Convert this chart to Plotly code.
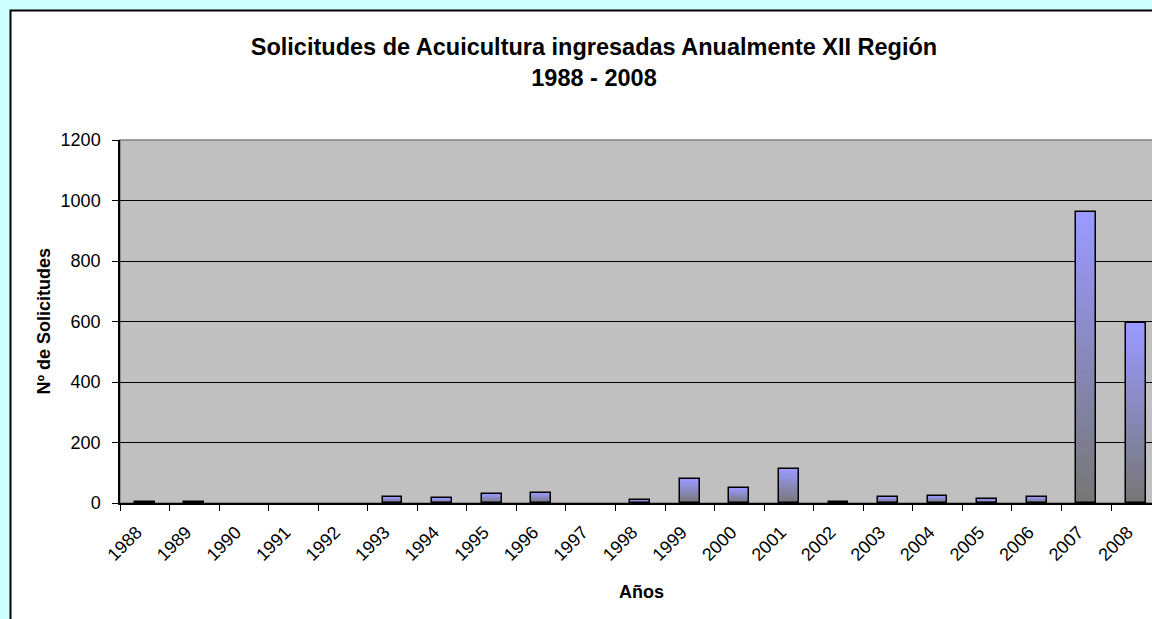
import plotly.graph_objects as go

# ---- data ----
years = ["1988", "1989", "1990", "1991", "1992", "1993", "1994", "1995", "1996", "1997",
         "1998", "1999", "2000", "2001", "2002", "2003", "2004", "2005", "2006", "2007", "2008"]
solicitudes = [4, 4, 0, 0, 0, 20, 15, 30, 34, 0,
               9, 79, 49, 112, 3, 20, 24, 14, 21, 962, 594]
y_ticks = [0, 200, 400, 600, 800, 1000, 1200]

title_text = "Solicitudes de Acuicultura ingresadas Anualmente XII Región"
subtitle_text = "1988 - 2008"
x_title = "Años"
y_title = "Nº de Solicitudes"

# ---- layout geometry (pixels) ----
W, H = 1152, 619
ML, MR, MT, MB = 120, 0, 140, 116
PW, PH = W - ML - MR, H - MT - MB
CAT_PX = 49.55  # pixel width of one category


def px_x(px):
    return (px - ML) / PW


def px_y(py):
    return (H - MB - py) / PH


FONT = "Arial, 'Liberation Sans', sans-serif"
TOP_RGB = (153, 153, 255)
BOT_RGB = (119, 119, 119)
N_SHADES = 24

# zero-valued years draw no bar at all
drawn = [v if v > 0 else None for v in solicitudes]

fig = go.Figure()

# vertical gradient fill of the bars (top light blue -> bottom grey), built as
# overlapping bars of the same values, each shade covering a lower share of the bar
for k in range(N_SHADES):
    t = k / (N_SHADES - 1)
    r = round(TOP_RGB[0] + (BOT_RGB[0] - TOP_RGB[0]) * t)
    g = round(TOP_RGB[1] + (BOT_RGB[1] - TOP_RGB[1]) * t)
    b = round(TOP_RGB[2] + (BOT_RGB[2] - TOP_RGB[2]) * t)
    share = 1 - k / N_SHADES
    fig.add_trace(go.Bar(
        x=years, y=[None if v is None else v * share for v in drawn], width=0.4,
        marker=dict(color=f"rgb({r},{g},{b})", line=dict(width=0)),
        hoverinfo="skip", showlegend=False,
    ))

# outline of the bars
fig.add_trace(go.Bar(
    x=years, y=drawn, width=0.4, name="Solicitudes",
    marker=dict(color="rgba(0,0,0,0)", line=dict(color="black", width=1.5)),
    showlegend=False,
))

shapes = [
    # white chart area with black frame (extends past the window on right/bottom)
    dict(type="rect", xref="paper", yref="paper", layer="below",
         x0=px_x(10.5), x1=px_x(1300), y0=px_y(10.5), y1=px_y(800),
         fillcolor="white", line=dict(color="black", width=2)),
    # grey plot area
    dict(type="rect", xref="paper", yref="paper", layer="below",
         x0=0, x1=1.2, y0=0, y1=1,
         fillcolor="#C0C0C0", line=dict(color="#808080", width=1.5)),
]

annotations = [
    dict(text=f"<b>{y_title}</b>", xref="paper", yref="paper",
         x=px_x(43), y=0.5, textangle=-90, showarrow=False,
         xanchor="center", yanchor="middle",
         font=dict(family=FONT, size=18, color="black")),
    dict(text=f"<b>{x_title}</b>", xref="paper", yref="paper",
         x=px_x(641), y=px_y(592), showarrow=False,
         xanchor="center", yanchor="middle",
         font=dict(family=FONT, size=18, color="black")),
]

fig.update_layout(
    width=W, height=H,
    margin=dict(l=ML, r=MR, t=MT, b=MB, autoexpand=False),
    paper_bgcolor="#CCFFFF",
    plot_bgcolor="rgba(0,0,0,0)",
    barmode="overlay",
    bargap=0,
    title=dict(
        text=f"<b>{title_text}</b><br><b>{subtitle_text}</b>",
        x=594 / W, xanchor="center", xref="container",
        y=1 - 55 / H, yanchor="top", yref="container",
        font=dict(family=FONT, size=23.5, color="black"),
    ),
    xaxis=dict(
        type="category", categoryorder="array", categoryarray=years,
        range=[-0.5, -0.5 + PW / CAT_PX],
        tickangle=-45, tickson="boundaries",
        ticks="outside", ticklen=6, tickcolor="black", tickwidth=1,
        showline=True, linecolor="black", linewidth=1.5,
        showgrid=False, zeroline=False,
        ticklabelstandoff=10, ticklabelshift=-8,
        tickfont=dict(family=FONT, size=18, color="black"),
        fixedrange=True,
    ),
    yaxis=dict(
        range=[0, 1200], tickvals=y_ticks,
        ticks="outside", ticklen=6, tickcolor="black", tickwidth=1,
        showline=True, linecolor="black", linewidth=1.5,
        showgrid=True, gridcolor="black", gridwidth=1.2,
        zeroline=False,
        ticklabelstandoff=8,
        tickfont=dict(family=FONT, size=18, color="black"),
        fixedrange=True,
    ),
    shapes=shapes,
    annotations=annotations,
)

fig.write_html(
    "out.html",
    config={"displayModeBar": False},
    post_script="document.body.style.margin='0';document.body.style.overflow='hidden';",
)
